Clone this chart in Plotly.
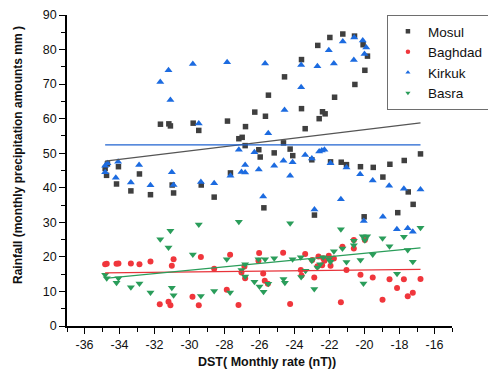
import plotly.graph_objects as go

# ---------------- data ----------------
mosul_x = [-34.82, -34.69, -34.06, -34.74, -34.17, -32.86, -33.35, -32.23, -31.66, -31.18,
           -31.09, -30.99, -30.91, -29.79, -29.47, -29.33, -28.59, -27.83, -27.66, -27.18,
           -26.99, -26.82, -26.80, -26.27, -26.04, -25.96, -25.75, -25.66, -25.49, -25.16,
           -24.63, -24.57, -24.25, -24.10, -23.60, -23.60, -23.39, -23.01, -22.86, -22.67,
           -22.59, -22.40, -22.25, -21.98, -21.94, -21.71, -21.33, -21.24, -21.03, -20.57,
           -20.55, -20.23, -20.08, -20.02, -19.98, -19.83, -19.50, -18.95, -18.55, -18.10,
           -17.73, -17.50, -17.22, -16.80]
mosul_y = [45.6, 46.9, 46.1, 43.6, 41.1, 44.0, 39.1, 38.0, 58.4, 58.5,
           57.9, 40.8, 38.5, 58.7, 56.6, 40.8, 37.3, 59.3, 44.3, 54.2,
           54.6, 52.2, 57.7, 61.9, 51.0, 48.9, 34.2, 60.7, 66.8, 50.1,
           53.0, 72.1, 51.2, 49.3, 77.1, 62.9, 57.1, 48.1, 32.1, 81.2,
           60.0, 62.0, 61.4, 83.5, 47.5, 66.2, 47.4, 84.5, 46.7, 83.9,
           69.9, 46.1, 81.4, 31.6, 74.0, 78.1, 45.9, 43.1, 46.8, 32.8,
           47.9, 38.8, 35.2, 49.8]

baghdad_x = [-34.82, -34.73, -34.17, -34.06, -33.35, -32.86, -32.23, -31.70, -31.20, -31.09,
             -31.01, -30.91, -29.83, -29.47, -29.35, -28.59, -27.87, -27.68, -27.20, -27.03,
             -26.86, -26.82, -26.06, -26.02, -25.79, -25.70, -25.52, -24.65, -24.25, -23.64,
             -23.60, -23.39, -22.99, -22.87, -22.69, -22.63, -22.42, -22.36, -22.29, -22.04,
             -21.94, -21.75, -21.35, -21.26, -21.03, -20.61, -20.61, -20.23, -19.98, -19.53,
             -18.97, -18.57, -18.14, -17.75, -17.53, -17.24, -16.80]
baghdad_y = [17.9, 18.0, 18.0, 18.1, 18.1, 17.9, 18.7, 6.3, 7.0, 6.0,
             17.4, 19.3, 8.5, 6.0, 20.0, 16.6, 10.5, 20.6, 6.1, 15.5,
             17.2, 13.8, 18.9, 21.1, 15.2, 13.1, 12.2, 21.2, 6.4, 16.2,
             14.6, 20.8, 19.1, 14.0, 17.3, 20.1, 17.6, 19.6, 18.9, 20.3,
             17.4, 19.5, 6.9, 22.9, 16.2, 24.9, 22.4, 14.8, 24.9, 14.0,
             7.6, 13.5, 11.0, 13.5, 8.6, 9.6, 13.6]

kirkuk_x = [-34.82, -34.69, -34.08, -34.82, -34.21, -33.35, -32.88, -32.23, -31.67, -31.20,
            -31.09, -31.01, -30.91, -29.81, -29.47, -29.35, -28.59, -27.85, -27.66, -27.18,
            -27.03, -26.82, -26.82, -26.29, -26.04, -25.79, -25.68, -25.50, -25.16, -24.63,
            -24.57, -24.25, -24.11, -23.62, -23.62, -23.39, -23.01, -22.86, -22.69, -22.59,
            -22.44, -22.29, -22.04, -21.94, -21.75, -21.35, -21.24, -21.03, -20.61, -20.59,
            -20.25, -20.10, -20.04, -20.00, -19.90, -19.53, -18.95, -18.59, -18.15, -17.75,
            -17.53, -17.24, -16.80]
kirkuk_y = [46.4, 47.1, 47.5, 44.5, 42.9, 41.5, 46.6, 40.7, 70.6, 74.0,
            65.4, 44.5, 40.8, 75.8, 58.6, 41.7, 41.3, 76.3, 43.5, 51.0,
            44.6, 46.6, 44.4, 50.3, 45.3, 37.5, 76.0, 55.8, 46.4, 47.8,
            62.5, 43.5, 47.4, 75.5, 69.1, 49.5, 48.5, 33.7, 75.2, 50.5,
            50.8, 51.0, 79.8, 47.1, 76.0, 36.7, 82.3, 45.9, 77.0, 83.5,
            43.9, 82.6, 30.4, 78.7, 80.6, 42.1, 31.6, 40.6, 28.0, 39.7,
            28.3, 27.3, 39.5]

basra_x = [-34.82, -34.73, -34.17, -34.06, -33.35, -32.86, -32.23, -31.67, -31.20, -31.09,
           -31.01, -30.91, -29.81, -29.47, -29.35, -28.59, -27.87, -27.68, -27.18, -27.03,
           -26.82, -26.82, -26.29, -26.06, -26.00, -25.77, -25.68, -25.50, -25.16, -24.63,
           -24.55, -24.25, -24.11, -23.64, -23.62, -23.37, -23.01, -22.87, -22.69, -22.53,
           -22.36, -22.04, -21.94, -21.75, -21.35, -21.26, -21.03, -20.61, -20.61, -20.23,
           -20.10, -19.98, -19.85, -20.06, -19.53, -18.97, -18.57, -18.14, -17.75, -17.53,
           -17.24, -16.80]
basra_y = [14.8, 13.8, 12.5, 13.8, 11.2, 12.3, 9.7, 25.1, 22.7, 27.6,
           11.1, 8.9, 20.7, 29.4, 8.7, 10.1, 19.3, 9.7, 30.2, 16.2,
           17.9, 14.3, 12.8, 19.3, 11.4, 9.9, 19.3, 12.2, 19.6, 13.6,
           12.5, 29.7, 19.3, 19.9, 14.2, 16.0, 18.9, 10.7, 16.9, 17.9,
           19.9, 19.3, 18.6, 21.6, 28.0, 22.4, 18.5, 24.7, 23.4, 19.1,
           26.0, 24.8, 26.0, 12.3, 20.7, 25.4, 23.1, 15.1, 25.8, 22.0,
           18.6, 28.4]

# linear-fit coefficients (slope, intercept)
mosul_fit = (0.616, 69.15)
baghdad_fit = (0.0555, 17.33)
kirkuk_fit = (0.0, 52.4)
basra_fit = (0.488, 30.8)

x_ticks = [-36, -34, -32, -30, -28, -26, -24, -22, -20, -18, -16]
y_ticks = [0, 10, 20, 30, 40, 50, 60, 70, 80, 90]

# ---------------- styles ----------------
series = [
    ("Mosul", mosul_x, mosul_y, mosul_fit, "#3f3f3f", "square", 5.5, "#555555"),
    ("Baghdad", baghdad_x, baghdad_y, baghdad_fit, "#f0363c", "circle", 6, "#e8333a"),
    ("Kirkuk", kirkuk_x, kirkuk_y, kirkuk_fit, "#1c6be0", "triangle-up", 7, "#1f63d0"),
    ("Basra", basra_x, basra_y, basra_fit, "#2a9d5a", "triangle-down", 7, "#2a9d5a"),
]

fig = go.Figure()
for name, xs, ys, fit, col, sym, size, lcol in series:
    fig.add_trace(go.Scatter(
        x=xs, y=ys, mode="markers", name=name, showlegend=False,
        marker=dict(symbol=sym, size=size, color=col, line=dict(width=0)),
    ))
for name, xs, ys, fit, col, sym, size, lcol in series:
    x0, x1 = min(xs), max(xs)
    slope, icpt = fit
    fig.add_trace(go.Scatter(
        x=[x0, x1], y=[slope * x0 + icpt, slope * x1 + icpt],
        mode="lines", showlegend=False, hoverinfo="skip",
        line=dict(color=lcol, width=1.3),
    ))
# legend entries with the small symbols of the reference
for name, xs, ys, fit, col, sym, size, lcol in series:
    fig.add_trace(go.Scatter(
        x=[None], y=[None], mode="markers", name=name, showlegend=True,
        marker=dict(symbol=sym, size=4.5, color=col, line=dict(width=0)),
    ))

font_family = "Liberation Sans, Arial, sans-serif"

fig.update_layout(
    width=488, height=376,
    margin=dict(l=67, r=36, t=15, b=50, pad=0, autoexpand=False),
    paper_bgcolor="white", plot_bgcolor="white",
    font=dict(family=font_family, size=12, color="#111111"),
    showlegend=True,
    legend=dict(
        x=0.831, y=1.0, xanchor="left", yanchor="top",
        bordercolor="#6e6e6e", borderwidth=1,
        bgcolor="white",
        font=dict(family=font_family, size=13.5, color="#111111"),
        tracegroupgap=0,
    ),
    xaxis=dict(
        range=[-37, -15], tickvals=x_ticks,
        ticktext=[str(v) for v in x_ticks],
        showline=True, linecolor="black", linewidth=1.5,
        ticks="outside", ticklen=6, tickwidth=1.2, tickcolor="black",
        minor=dict(dtick=1, tick0=-37, ticks="outside", ticklen=4, tickwidth=1.2,
                   tickcolor="black", showgrid=False),
        showgrid=False, zeroline=False,
        tickfont=dict(size=12.5),
    ),
    yaxis=dict(
        range=[0, 90], tickvals=y_ticks,
        ticktext=[str(v) for v in y_ticks],
        showline=True, linecolor="black", linewidth=1.5,
        ticks="outside", ticklen=6, tickwidth=1.2, tickcolor="black",
        minor=dict(dtick=5, tick0=0, ticks="outside", ticklen=4, tickwidth=1.2,
                   tickcolor="black", showgrid=False),
        showgrid=False, zeroline=False,
        tickfont=dict(size=12.5),
    ),
    annotations=[
        dict(text="<b>DST( Monthly rate (nT))</b>", xref="paper", yref="paper",
             x=(267 - 67) / 385, y=-(362 - 326) / 311, xanchor="center", yanchor="middle",
             showarrow=False, font=dict(size=12.5, family=font_family, color="#111111")),
        dict(text="<b>Rainfall (monthly precipitation amounts mm )</b>", xref="paper", yref="paper",
             x=-(67 - 18) / 385, y=(326 - 155) / 311, xanchor="center", yanchor="middle",
             textangle=-90, showarrow=False,
             font=dict(size=12, family=font_family, color="#111111")),
    ],
)

fig.write_html("out.html")
